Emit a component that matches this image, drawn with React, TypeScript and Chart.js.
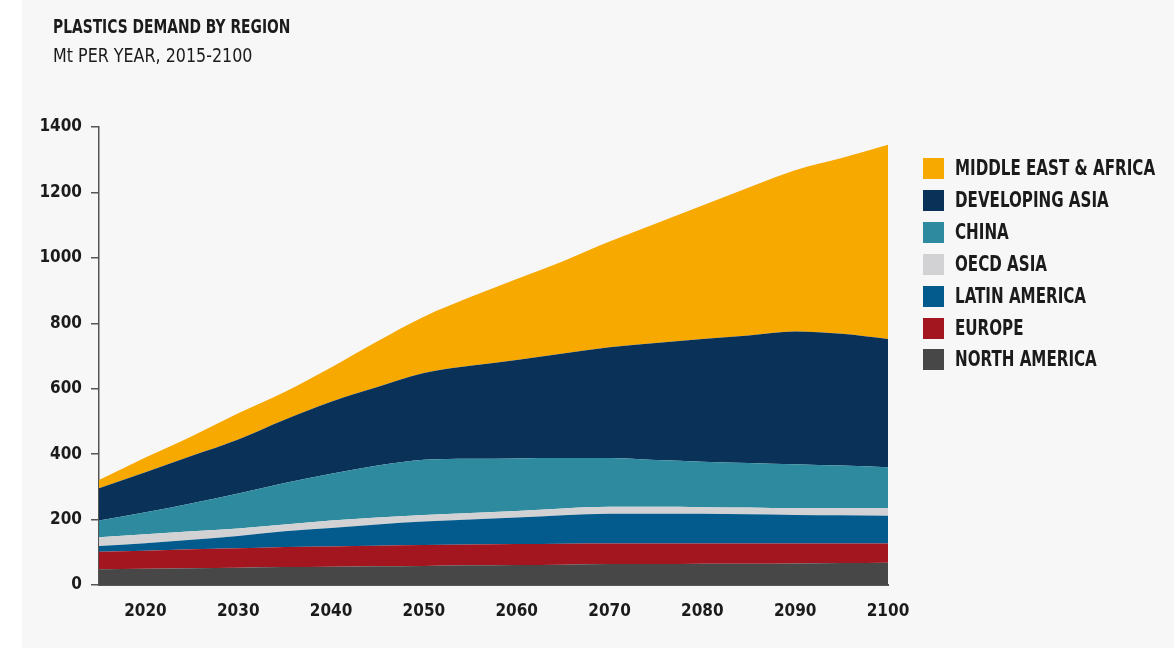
import React, { useEffect, useRef } from "react";
import { Chart, registerables } from "chart.js";

Chart.register(...registerables);

const TITLE = "PLASTICS DEMAND BY REGION";
const SUBTITLE = "Mt PER YEAR, 2015-2100";

const YEARS = [2015, 2020, 2025, 2030, 2035, 2040, 2045, 2050, 2055, 2060, 2065, 2070, 2075, 2080, 2085, 2090, 2095, 2100];
const X_TICKS = [2020, 2030, 2040, 2050, 2060, 2070, 2080, 2090, 2100];

const NORTH_AMERICA = [48, 50, 51, 53, 55, 56, 57, 58, 60, 61, 62, 64, 64, 65, 65, 66, 67, 68];
const EUROPE = [54, 55, 58, 59, 61, 62, 63, 64, 64, 64, 64, 63, 63, 62, 62, 61, 60, 59];
const LATIN_AMERICA = [17, 23, 29, 38, 48, 56, 65, 72, 76, 81, 87, 91, 91, 91, 89, 87, 86, 85];
const OECD_ASIA = [27, 27, 26, 23, 21, 23, 21, 20, 20, 20, 21, 21, 21, 20, 21, 21, 22, 23];
const CHINA = [51, 67, 86, 107, 127, 143, 159, 169, 166, 161, 154, 149, 143, 139, 136, 134, 130, 125];
const DEVELOPING_ASIA = [99, 123, 145, 165, 193, 220, 240, 265, 284, 301, 320, 339, 358, 375, 390, 406, 403, 392];
const MIDDLE_EAST_AFRICA = [25, 45, 60, 80, 85, 105, 140, 172, 210, 247, 282, 323, 365, 408, 452, 493, 537, 594];

const SERIES_NAMES = ["NORTH AMERICA", "EUROPE", "LATIN AMERICA", "OECD ASIA", "CHINA", "DEVELOPING ASIA", "MIDDLE EAST & AFRICA"];
const SERIES_VALUES = [NORTH_AMERICA, EUROPE, LATIN_AMERICA, OECD_ASIA, CHINA, DEVELOPING_ASIA, MIDDLE_EAST_AFRICA];
const SERIES_COLORS = ["#474747", "#A3151F", "#035A8C", "#D2D2D4", "#2E8A9E", "#0A3158", "#F7A900"];

const FONT = "'Liberation Sans Narrow', 'DejaVu Sans Condensed', 'Liberation Sans', sans-serif";
const TEXT = "#1b1b1b";
const BG = "#f7f7f7";

export default function App() {
  const ref = useRef<HTMLCanvasElement | null>(null);

  useEffect(() => {
    const canvas = ref.current;
    if (!canvas) return;
    const datasets = SERIES_NAMES.map((name, i) => ({
      label: name,
      data: YEARS.map((yr, j) => ({ x: yr, y: SERIES_VALUES[i][j] })),
      backgroundColor: SERIES_COLORS[i],
      borderColor: SERIES_COLORS[i],
      borderWidth: 0,
      pointRadius: 0,
      fill: i === 0 ? "origin" : "-1",
      cubicInterpolationMode: "monotone" as const,
    }));
    const chart = new Chart(canvas, {
      type: "line",
      data: { datasets },
      options: {
        animation: false,
        responsive: false,
        maintainAspectRatio: false,
        layout: { padding: { top: 127, right: 72, bottom: 0, left: 0 } },
        plugins: { legend: { display: false }, tooltip: { enabled: false } },
        elements: { line: { borderWidth: 0 } },
        scales: {
          x: {
            type: "linear",
            min: 2015,
            max: 2100,
            grid: { display: false, drawTicks: false },
            border: { display: true, color: "#555", width: 2 },
            afterBuildTicks: (s: any) => {
              s.ticks = X_TICKS.map((v) => ({ value: v }));
            },
            afterFit: (s: any) => {
              s.height = 64;
            },
            ticks: {
              padding: 16,
              maxRotation: 0,
              autoSkip: false,
              color: TEXT,
              font: { family: FONT, size: 17, weight: "bold" },
              callback: (v: any) => String(v),
            },
          },
          y: {
            stacked: true,
            min: 0,
            max: 1400,
            grid: { drawOnChartArea: false, drawTicks: true, tickLength: 8, color: "#555", lineWidth: 1.5 },
            border: { display: true, color: "#555", width: 1.5 },
            afterFit: (s: any) => {
              s.width = 99;
            },
            ticks: {
              stepSize: 200,
              padding: 9,
              color: TEXT,
              font: { family: FONT, size: 17, weight: "bold" },
              callback: (v: any) => String(v),
            },
          },
        },
      },
    });
    return () => chart.destroy();
  }, []);

  const squeeze = (sx: number): React.CSSProperties => ({
    display: "inline-block",
    transform: `scaleX(${sx})`,
    transformOrigin: "left center",
  });

  return (
    <div style={{ position: "fixed", left: 0, top: 0, width: 1174, height: 649, background: "#ffffff", overflow: "hidden" }}>
      <div style={{ position: "absolute", left: 22, top: 0, width: 1152, height: 648, background: BG }} />
      <canvas ref={ref} width={960} height={649} style={{ position: "absolute", left: 0, top: 0, width: 960, height: 649 }} />
      <div style={{ position: "absolute", left: 53, top: 14, fontFamily: FONT, fontWeight: "bold", fontSize: 19, color: TEXT, lineHeight: "24px", whiteSpace: "nowrap" }}>
        <span style={squeeze(0.81)}>{TITLE}</span>
      </div>
      <div style={{ position: "absolute", left: 53, top: 42, fontFamily: FONT, fontSize: 20, color: TEXT, lineHeight: "26px", whiteSpace: "nowrap" }}>
        <span style={squeeze(0.885)}>{SUBTITLE}</span>
      </div>
      <div style={{ position: "absolute", left: 923, top: 158 }}>
        {SERIES_NAMES.map((name, i) => ({ name, color: SERIES_COLORS[i] })).reverse().map((item, k) => (
          <div key={item.name} style={{ position: "absolute", left: 0, top: k * 31.9, height: 21, display: "flex", alignItems: "center", whiteSpace: "nowrap" }}>
            <div style={{ width: 21, height: 21, background: item.color, flex: "none" }} />
            <div style={{ marginLeft: 11, fontFamily: FONT, fontWeight: "bold", fontSize: 20.5, color: TEXT, lineHeight: "21px" }}>
              <span style={squeeze(0.82)}>{item.name}</span>
            </div>
          </div>
        ))}
      </div>
    </div>
  );
}
